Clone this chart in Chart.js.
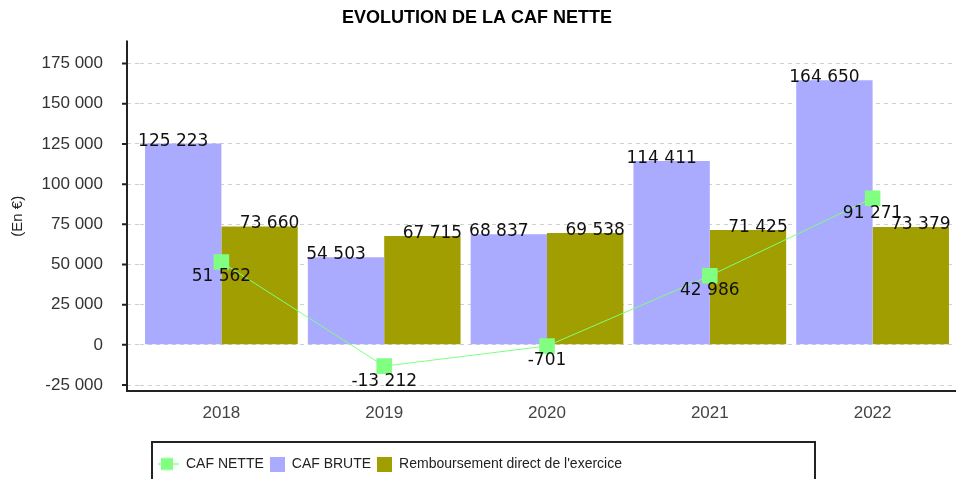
<!DOCTYPE html>
<html>
<head>
<meta charset="utf-8">
<script src="https://cdn.jsdelivr.net/npm/chart.js@4.4.0/dist/chart.umd.min.js"></script>
<style>
  html, body { margin: 0; padding: 0; background: #fff; }
  canvas { display: block; }
</style>
</head>
<body>
<canvas id="cafChart" width="956" height="479"></canvas>
<script>
var years = ['2018', '2019', '2020', '2021', '2022'];
var cafNette = [51562, -13212, -701, 42986, 91271];
var cafBrute = [125223, 54503, 68837, 114411, 164650];
var remboursement = [73660, 67715, 69538, 71425, 73379];
var yTicks = [-25000, 0, 25000, 50000, 75000, 100000, 125000, 150000, 175000];

var GREEN = '#80ff80';
var BLUE = '#aaaaff';
var OLIVE = '#a09e00';

function fmt(v) {
  return String(v).replace(/\B(?=(\d{3})+(?!\d))/g, ' ');
}

// little canvases used as legend markers
function legendMarker(color, isLine) {
  var c = document.createElement('canvas');
  c.width = isLine ? 33 : 15;
  c.height = 15;
  var g = c.getContext('2d');
  g.fillStyle = color;
  if (isLine) {
    // line sits in the left 24px, the rest is empty so it lines up with the text
    g.strokeStyle = color;
    g.lineWidth = 1.5;
    g.beginPath();
    g.moveTo(0, 7.5);
    g.lineTo(24, 7.5);
    g.stroke();
    g.fillRect(6, 1.5, 12, 12);
  } else {
    g.fillRect(0, 0, 15, 15);
  }
  return c;
}
var markers = [legendMarker(GREEN, true), legendMarker(BLUE), legendMarker(OLIVE)];

var valueLabels = {
  id: 'valueLabels',
  afterDatasetsDraw: function(chart) {
    var ctx = chart.ctx;
    ctx.save();
    ctx.font = '17px "DejaVu Sans"';
    ctx.fillStyle = '#111';
    ctx.textAlign = 'center';
    chart.data.datasets.forEach(function(ds, i) {
      var meta = chart.getDatasetMeta(i);
      meta.data.forEach(function(el, j) {
        var txt = fmt(ds.data[j]);
        if (ds.type === 'line') {
          ctx.textBaseline = 'middle';
          ctx.fillText(txt, el.x, el.y + 15);
        } else {
          ctx.textBaseline = 'alphabetic';
          ctx.fillText(txt, el.x + (i === 1 ? -10 : 10), el.y + 2);
        }
      });
    });
    ctx.restore();
  }
};

var frame = {
  id: 'frame',
  afterLayout: function(chart) {
    chart.legend.left += 18;
    chart.legend.right += 18;
    chart.legend.top += 2;
    chart.legend.bottom += 2;
  },
  afterDraw: function(chart) {
    var a = chart.chartArea, y = chart.scales.y, ctx = chart.ctx;
    var ax = a.left - 13;
    ctx.save();
    ctx.strokeStyle = '#222';
    ctx.lineWidth = 2;
    ctx.beginPath();
    ctx.moveTo(ax, a.top - 1);
    ctx.lineTo(ax, a.bottom);
    ctx.lineTo(chart.width, a.bottom);
    y.ticks.forEach(function(t) {
      var py = y.getPixelForValue(t.value);
      ctx.moveTo(ax - 5, py);
      ctx.lineTo(ax, py);
    });
    ctx.stroke();
    // legend box
    var L = chart.legend;
    var x0 = L.left + 6 - 12;
    ctx.strokeRect(x0, L.top - 9, 663, 40);
    ctx.restore();
  }
};

var ctx = document.getElementById('cafChart');
var cafChart = new Chart(ctx, {
  data: {
    labels: years,
    datasets: [{
      type: 'line',
      label: 'CAF NETTE',
      data: cafNette,
      borderColor: GREEN,
      backgroundColor: GREEN,
      borderWidth: 1,
      pointStyle: 'rect',
      pointRadius: 11,
      pointBorderWidth: 0,
      order: 0
    }, {
      type: 'bar',
      label: 'CAF BRUTE',
      data: cafBrute,
      backgroundColor: BLUE,
      barPercentage: 1,
      categoryPercentage: 0.938,
      order: 1
    }, {
      type: 'bar',
      label: "Remboursement direct de l'exercice",
      data: remboursement,
      backgroundColor: OLIVE,
      barPercentage: 1,
      categoryPercentage: 0.938,
      order: 1
    }]
  },
  options: {
    responsive: false,
    animation: false,
    layout: { autoPadding: false, padding: { left: 0, right: 2, top: 0, bottom: 0 } },
    plugins: {
      title: {
        display: true,
        text: 'EVOLUTION DE LA CAF NETTE',
        color: '#000',
        font: { family: 'Liberation Sans', size: 18, weight: 'bold' },
        padding: { top: 7, bottom: 13 }
      },
      legend: {
        position: 'bottom',
        align: 'start',
        fullSize: false,
        labels: {
          usePointStyle: true,
          pointStyleWidth: 15,
          padding: 6,
          color: '#222',
          font: { family: 'Liberation Sans', size: 14 },
          generateLabels: function(chart) {
            var items = Chart.defaults.plugins.legend.labels.generateLabels(chart);
            items.forEach(function(it, i) { it.pointStyle = markers[i]; });
            return items;
          }
        }
      },
      tooltip: { enabled: false }
    },
    scales: {
      x: {
        grid: { display: false, drawTicks: false },
        border: { display: false },
        ticks: { color: '#444', font: { family: 'Liberation Sans', size: 17 }, padding: 12 },
        afterFit: function(s) {
          s.height = 58;
          s.paddingLeft = 0;
          s.paddingRight = 0;
        }
      },
      y: {
        min: -28700,
        max: 188700,
        afterBuildTicks: function(s) {
          s.ticks = yTicks.map(function(v) { return { value: v }; });
        },
        grid: {
          color: '#cfcfcf',
          tickColor: '#cfcfcf',
          tickLength: 13,
          tickBorderDash: [4, 4]
        },
        border: { display: false, dash: [4, 4] },
        ticks: {
          color: '#333',
          font: { family: 'Liberation Sans', size: 17 },
          padding: 24,
          callback: function(v) { return fmt(v); }
        },
        title: {
          display: true,
          text: '(En €)',
          color: '#222',
          font: { family: 'Liberation Sans', size: 15 },
          padding: { top: 9, bottom: 0 }
        },
        afterFit: function(s) {
          s.width = 140;
          s.paddingTop = 0;
          s.paddingBottom = 0;
        }
      }
    }
  },
  plugins: [valueLabels, frame]
});
</script>
</body>
</html>
